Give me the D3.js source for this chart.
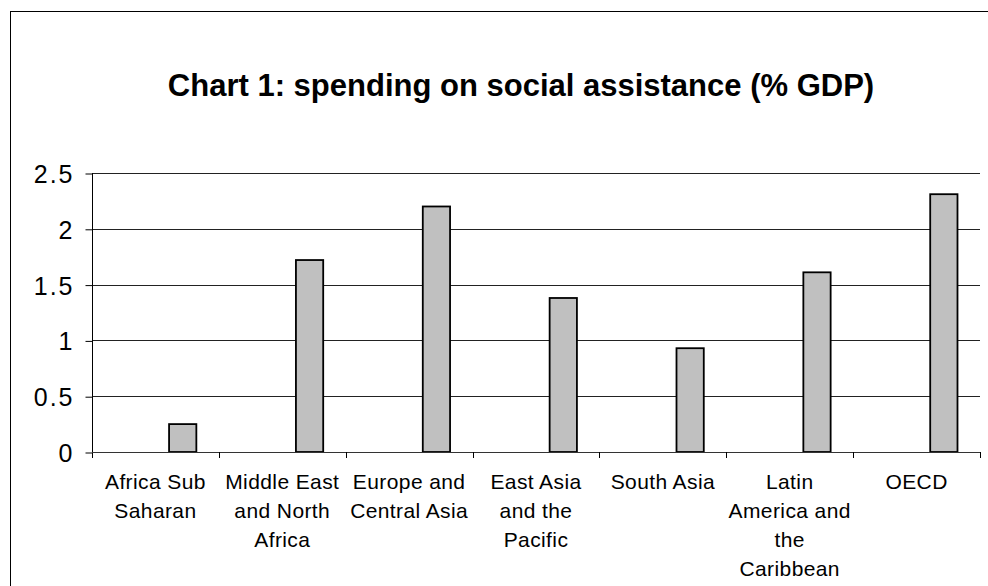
<!DOCTYPE html>
<html>
<head>
<meta charset="utf-8">
<script src="https://cdn.jsdelivr.net/npm/d3@7"></script>
<style>
  body { margin: 0; background: #fff; }
  svg { display: block; font-family: "Liberation Sans", Arial, sans-serif; }
</style>
</head>
<body>
<div id="chart"></div>
<script>
// data
const categories = ["Africa Sub Saharan", "Middle East and North Africa", "Europe and Central Asia",
  "East Asia and the Pacific", "South Asia", "Latin America and the Caribbean", "OECD"];
const labelLines = [
  ["Africa Sub", "Saharan"],
  ["Middle East", "and North", "Africa"],
  ["Europe and", "Central Asia"],
  ["East Asia", "and the", "Pacific"],
  ["South Asia"],
  ["Latin", "America and", "the", "Caribbean"],
  ["OECD"]
];
const spending = [0.25, 1.72, 2.2, 1.38, 0.93, 1.61, 2.31];
const yTicks = [0, 0.5, 1, 1.5, 2, 2.5];

const width = 988, height = 586;
const margin = { top: 173, right: 8, bottom: 134, left: 92 };

const svg = d3.select("#chart")
  .append("svg")
  .attr("width", width)
  .attr("height", height);

svg.append("rect")
  .attr("width", width)
  .attr("height", height)
  .attr("fill", "#fff");

// chart frame (right and bottom edges fall outside the picture)
svg.append("rect")
  .attr("x", 10.5)
  .attr("y", 11.5)
  .attr("width", 1000)
  .attr("height", 600)
  .attr("fill", "none")
  .attr("stroke", "#000")
  .attr("stroke-width", 1);

const x = d3.scaleBand()
  .domain(categories)
  .range([margin.left, width - margin.right])
  .paddingInner(0)
  .paddingOuter(0);

// three series slots per category, only the last one carries data
const xs = d3.scaleBand()
  .domain(["s1", "s2", "s3"])
  .range([0, x.bandwidth()])
  .paddingInner(0)
  .paddingOuter(0.825);

const y = d3.scaleLinear()
  .domain([0, 2.5])
  .range([height - margin.bottom, margin.top]);

const x0 = margin.left, x1 = width - margin.right;

// gridlines
svg.append("g")
  .selectAll("line")
  .data(yTicks.filter(d => d > 0))
  .enter().append("line")
  .attr("x1", x0)
  .attr("x2", x1)
  .attr("y1", d => Math.round(y(d)) + 0.5)
  .attr("y2", d => Math.round(y(d)) + 0.5)
  .attr("stroke", "#222")
  .attr("stroke-width", 1);

// y axis
const yAxis = svg.append("g")
  .attr("transform", `translate(${x0 + 0.5},0.5)`)
  .call(d3.axisLeft(y).tickValues(yTicks).tickSize(7).tickPadding(11).tickFormat(d3.format("")));
yAxis.select(".domain").remove();
yAxis.selectAll(".tick line").attr("stroke", "#000");
yAxis.selectAll(".tick text")
  .style("font-size", "25px")
  .style("letter-spacing", "2px")
  .attr("fill", "#000")
  .attr("dy", "0.36em");

svg.append("line")
  .attr("x1", x0 + 0.5).attr("x2", x0 + 0.5)
  .attr("y1", y(2.5)).attr("y2", y(0) + 6)
  .attr("stroke", "#000");

// bars
svg.append("g")
  .selectAll("rect")
  .data(spending)
  .enter().append("rect")
  .attr("x", (d, i) => x(categories[i]) + xs("s3"))
  .attr("y", d => y(d))
  .attr("width", xs.bandwidth())
  .attr("height", d => y(0) - y(d))
  .attr("fill", "#c0c0c0")
  .attr("stroke", "#000")
  .attr("stroke-width", 1.8);

// x axis line and boundary ticks
svg.append("line")
  .attr("x1", x0).attr("x2", x1)
  .attr("y1", Math.round(y(0)) + 0.5).attr("y2", Math.round(y(0)) + 0.5)
  .attr("stroke", "#333");

svg.append("g")
  .selectAll("line")
  .data(categories.slice(1).concat(["end"]))
  .enter().append("line")
  .attr("x1", (d, i) => Math.round(x0 + (i + 1) * x.bandwidth()) + 0.5)
  .attr("x2", (d, i) => Math.round(x0 + (i + 1) * x.bandwidth()) + 0.5)
  .attr("y1", y(0))
  .attr("y2", y(0) + 6)
  .attr("stroke", "#000");

// category labels
const labels = svg.append("g")
  .selectAll("text")
  .data(categories)
  .enter().append("text")
  .attr("x", d => x(d) + x.bandwidth() / 2)
  .attr("y", 489)
  .attr("text-anchor", "middle")
  .style("font-size", "21px")
  .style("letter-spacing", "0.4px")
  .attr("fill", "#000");

labels.selectAll("tspan")
  .data((d, i) => labelLines[i])
  .enter().append("tspan")
  .attr("x", function () { return d3.select(this.parentNode).attr("x"); })
  .attr("dy", (d, i) => i === 0 ? 0 : 29)
  .text(d => d);

// title
svg.append("text")
  .attr("x", 521)
  .attr("y", 96)
  .attr("text-anchor", "middle")
  .style("font-size", "31px")
  .style("font-weight", "bold")
  .attr("fill", "#000")
  .text("Chart 1: spending on social assistance (% GDP)");
</script>
</body>
</html>
